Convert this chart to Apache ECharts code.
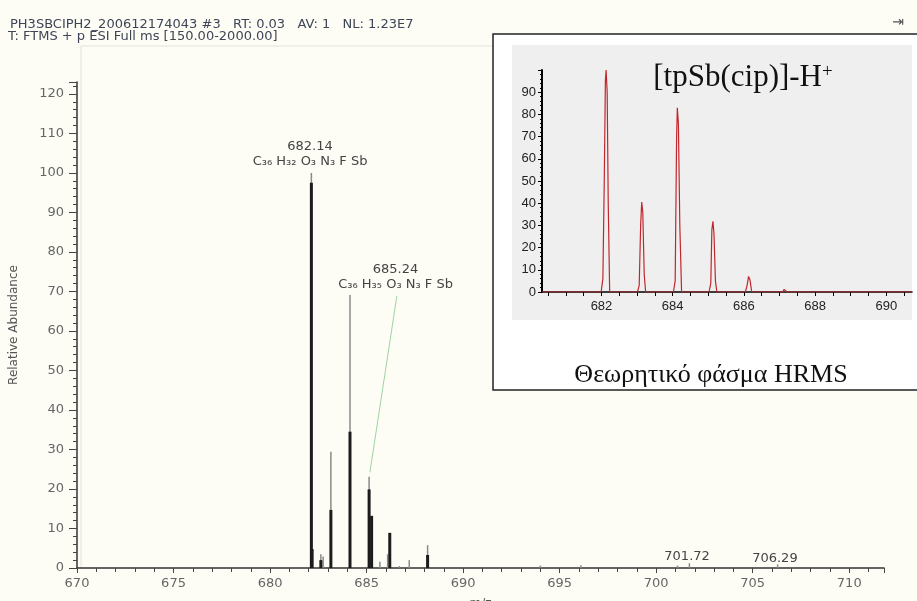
<!DOCTYPE html>
<html>
<head>
<meta charset="UTF-8">
<title>HRMS tpSb(cip)</title>
<script src="https://cdn.jsdelivr.net/npm/echarts@6/dist/echarts.min.js"></script>
<style>
  html, body { margin: 0; padding: 0; background: #fdfdf6; }
  #main { width: 917px; height: 601px; }
</style>
</head>
<body>
<div id="main"></div>
<script>
// measured spectrum: thin grey sticks (full peak height)
var greyMz  = [682.14, 682.63, 682.75, 683.15, 684.14, 685.13, 685.69, 686.09, 686.7, 687.21, 688.16, 694.0, 696.1, 701.1, 701.72, 706.29];
var greyTop = [100, 3.5, 2.9, 29.4, 69.1, 23.1, 1.6, 3.5, 0.5, 2.0, 5.8, 0.6, 0.7, 0.6, 1.2, 0.9];
// measured spectrum: thick dark part of the sticks
var darkMz  = [682.14, 682.18, 682.63, 683.15, 684.14, 685.13, 685.26, 686.2, 688.16];
var darkTop = [97.5, 4.8, 2.0, 14.7, 34.5, 19.9, 13.2, 8.9, 3.3];

// peak annotations (m/z, height where the text sits)
var noteMz   = [682.07, 682.07, 686.5, 686.5, 701.6, 706.15];
var noteY    = [106.6, 102.8, 75.4, 71.6, 2.8, 2.3];
var noteText = ['682.14', 'C₃₆ H₃₂ O₃ N₃ F Sb', '685.24', 'C₃₆ H₃₅ O₃ N₃ F Sb', '701.72', '706.29'];
var leaderFrom = [686.57, 68.9];
var leaderTo   = [685.17, 24.2];

// theoretical spectrum (inset), profile points
var simMz = [680.33,
  681.99, 682.04, 682.08, 682.11, 682.13, 682.16, 682.19, 682.23,
  683.01, 683.06, 683.10, 683.13, 683.16, 683.20, 683.24,
  684.02, 684.07, 684.11, 684.13, 684.16, 684.20, 684.25,
  685.02, 685.07, 685.10, 685.13, 685.16, 685.20, 685.24,
  686.04, 686.09, 686.13, 686.17, 686.22,
  687.09, 687.13, 687.18, 687.21,
  690.72];
var simAb = [0,
  0, 6, 52, 95, 100, 90, 40, 0,
  0, 3, 30, 40.5, 36, 8, 0,
  0, 5, 70, 83, 76, 30, 0,
  0, 4, 28, 31.8, 26, 5, 0,
  0, 3, 7, 5.5, 0,
  0, 1.2, 1.2, 0,
  0];
var simLabels = [682, 684, 686, 688, 690];
var simTicks  = [680.5, 681, 681.5, 682, 682.5, 683, 683.5, 684, 684.5, 685, 685.5, 686, 686.5, 687, 687.5, 688, 688.5, 689, 689.5, 690, 690.5];

var sans = '"DejaVu Sans", sans-serif';
var narrow = '"Liberation Sans Narrow", "Liberation Sans", sans-serif';
var serif = '"Liberation Serif", "DejaVu Serif", serif';

function stickSeries(mz, top, color, width) {
  return {
    type: 'custom',
    xAxisIndex: 0,
    yAxisIndex: 0,
    z: 3,
    data: mz.map(function (m, i) { return [m, top[i]]; }),
    renderItem: function (params, api) {
      var a = api.coord([api.value(0), 0]);
      var b = api.coord([api.value(0), api.value(1)]);
      return {
        type: 'line',
        shape: { x1: a[0], y1: a[1], x2: b[0], y2: b[1] },
        style: { stroke: color, lineWidth: width }
      };
    }
  };
}

var myChart = echarts.init(document.getElementById('main'));
var option = {
  backgroundColor: '#fdfdf6',
  animation: false,
  grid: [
    { left: 77, right: 33, top: 82, bottom: 33, outerBoundsMode: 'none' },
    { left: 542, right: 5, top: 70, bottom: 309, outerBoundsMode: 'none' }
  ],
  xAxis: [
    {
      type: 'value', gridIndex: 0, min: 670, max: 711.8, interval: 5,
      name: 'm/z', nameLocation: 'middle', nameGap: 30,
      nameTextStyle: { color: '#555', fontFamily: sans, fontSize: 12 },
      axisLine: { show: true, lineStyle: { color: '#333', width: 1.5 } },
      axisTick: { show: true, length: 5, lineStyle: { color: '#444' } },
      minorTick: { show: true, splitNumber: 5, length: 4, lineStyle: { color: '#444' } },
      axisLabel: { color: '#666', fontFamily: sans, fontSize: 13, margin: 9, showMaxLabel: false },
      splitLine: { show: false }
    },
    {
      type: 'value', gridIndex: 1, min: 680.33, max: 690.72, z: 5,
      axisLine: { show: true, lineStyle: { color: '#000', width: 1.5 } },
      axisTick: { show: true, length: 4, customValues: simTicks, lineStyle: { color: '#000' } },
      axisLabel: { color: '#222', fontFamily: narrow, fontSize: 13, margin: 8, customValues: simLabels },
      splitLine: { show: false }
    }
  ],
  yAxis: [
    {
      type: 'value', gridIndex: 0, min: 0, max: 123, interval: 10,
      name: 'Relative Abundance', nameLocation: 'middle', nameGap: 57,
      nameTextStyle: { color: '#555', fontFamily: sans, fontSize: 12 },
      axisLine: { show: true, lineStyle: { color: '#333', width: 1.5 } },
      axisTick: { show: true, length: 8, lineStyle: { color: '#444' } },
      minorTick: { show: true, splitNumber: 5, length: 4, lineStyle: { color: '#444' } },
      axisLabel: { color: '#666', fontFamily: sans, fontSize: 13, margin: 13, showMaxLabel: false },
      splitLine: { show: false }
    },
    {
      type: 'value', gridIndex: 1, min: 0, max: 100, interval: 10, z: 5,
      axisLine: { show: true, lineStyle: { color: '#000', width: 2 } },
      axisTick: { show: true, length: 4, lineStyle: { color: '#000' } },
      minorTick: { show: true, splitNumber: 5, length: 2, lineStyle: { color: '#000' } },
      axisLabel: { color: '#222', fontFamily: narrow, fontSize: 13, margin: 6, showMaxLabel: false },
      splitLine: { show: false }
    }
  ],
  series: [
    stickSeries(greyMz, greyTop, '#8a8a8a', 1.5),
    stickSeries(darkMz, darkTop, '#1c1c1c', 3),
    {
      type: 'custom',
      xAxisIndex: 0,
      yAxisIndex: 0,
      z: 4,
      data: noteMz.map(function (m, i) { return [m, noteY[i]]; }),
      renderItem: function (params, api) {
        var p = api.coord([api.value(0), api.value(1)]);
        return {
          type: 'text',
          x: p[0],
          y: p[1],
          style: {
            text: noteText[params.dataIndex],
            fill: '#444',
            font: '13px ' + sans,
            align: 'center', textAlign: 'center',
            verticalAlign: 'middle', textVerticalAlign: 'middle'
          }
        };
      },
      markLine: {
        silent: true,
        symbol: 'none',
        label: { show: false },
        lineStyle: { color: '#9fd49f', width: 1, type: 'solid' },
        data: [[{ coord: leaderFrom }, { coord: leaderTo }]]
      }
    },
    {
      type: 'line',
      xAxisIndex: 1,
      yAxisIndex: 1,
      z: 6,
      showSymbol: false,
      data: simMz.map(function (m, i) { return [m, simAb[i]]; }),
      lineStyle: { color: '#c0272d', width: 1.2 }
    }
  ],
  graphic: [
    { type: 'polyline', z: 0, shape: { points: [[81, 568], [81, 46], [493, 46]] },
      style: { stroke: '#e2e2da', lineWidth: 1, fill: null } },
    { type: 'text', z: 1, x: 10, y: 25,
      style: { text: 'PH3SBCIPH2_200612174043 #3   RT: 0.03   AV: 1   NL: 1.23E7', fill: '#3e4656',
               font: '13px ' + sans, verticalAlign: 'middle' } },
    { type: 'text', z: 1, x: 8, y: 37,
      style: { text: 'T: FTMS + p ESI Full ms [150.00-2000.00]', fill: '#3e4656',
               font: '13px ' + sans, verticalAlign: 'middle' } },
    { type: 'text', z: 1, x: 898, y: 22,
      style: { text: '⇥', fill: '#555', font: '14px ' + sans, align: 'center', verticalAlign: 'middle' } },
    { type: 'rect', z: 1, shape: { x: 493, y: 34, width: 430, height: 356 },
      style: { fill: '#ffffff', stroke: '#222', lineWidth: 1.5 } },
    { type: 'rect', z: 2, shape: { x: 512, y: 45, width: 400, height: 275 },
      style: { fill: '#efefef' } },
    { type: 'text', z: 7, x: 743, y: 78,
      style: {
        text: '{a|[tpSb(cip)]-H}{s|+}',
        align: 'center', verticalAlign: 'middle',
        rich: {
          a: { fontFamily: serif, fontSize: 31, fill: '#111', color: '#111' },
          s: { fontFamily: serif, fontSize: 19, fill: '#111', color: '#111', verticalAlign: 'top' }
        }
      } },
    { type: 'text', z: 7, x: 711, y: 375,
      style: { text: 'Θεωρητικό φάσμα HRMS', fill: '#111', font: '26px ' + serif,
               align: 'center', verticalAlign: 'middle' } }
  ]
};
myChart.setOption(option);
</script>
</body>
</html>
